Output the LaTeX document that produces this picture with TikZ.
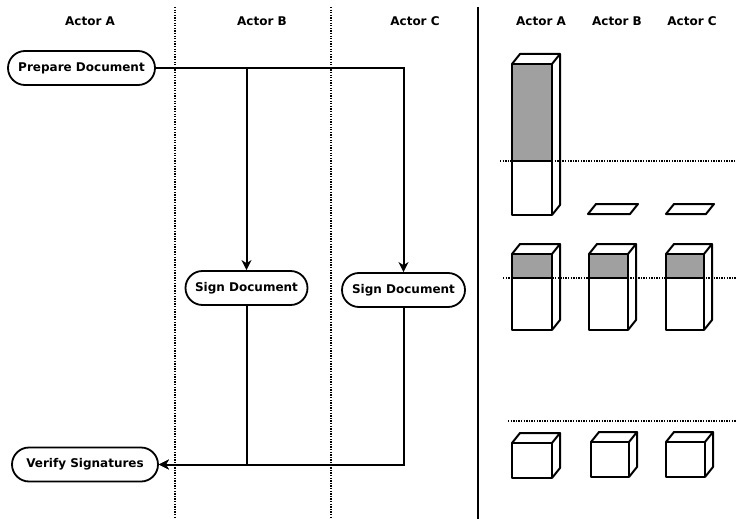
\documentclass[tikz,border=0pt]{standalone}
\usepackage{fontspec}
\setmainfont{DejaVu Sans}
\usetikzlibrary{arrows.meta}
\definecolor{boxgray}{HTML}{A0A0A0}
\newcommand{\colblock}[5]{%
  % #1 x-left, #2 y-top, #3 width, #4 y-bottom, #5 y of gray end (or same as #2)
  \fill[boxgray] (#1,#2) rectangle (#1+#3,#5);
  \draw[shape line] (#1,#2) rectangle (#1+#3,#4);
  \draw[shape line] (#1,#2) -- (#1+8,#2-10) -- (#1+#3+8,#2-10) -- (#1+#3,#2);
  \draw[shape line] (#1+#3+8,#2-10) -- (#1+#3+8,#4-10) -- (#1+#3,#4);
  \draw[shape line] (#1,#5) -- (#1+#3,#5);
}
\tikzset{
  act/.style={draw, line width=1.8pt, rounded corners=17pt, minimum height=34pt,
    inner sep=0pt, font=\fontsize{12}{14}\selectfont\bfseries},
  hdr/.style={font=\fontsize{12}{14}\selectfont\bfseries},
  flow/.style={line width=2pt, -{Stealth[length=10pt,width=10pt,inset=3pt]}},
  lane/.style={line width=1.4pt, dash pattern=on 1.3pt off 1.3pt},
  shape line/.style={line width=2pt, line join=round},
}
\begin{document}
\begin{tikzpicture}[x=1pt,y=-1pt]
\useasboundingbox (0,0) rectangle (736,519);
% lanes
\draw[lane] (175,7) -- (175,519);
\draw[lane] (331,7) -- (331,519);
\draw[line width=2pt] (478,7) -- (478,519);
% headers
\node[hdr] (hA) at (90,21) {Actor A};
\node[hdr] (hB) at (262,21) {Actor B};
\node[hdr] (hC) at (415,21) {Actor C};
\node[hdr] (rA) at (541,21) {Actor A};
\node[hdr] (rB) at (617,21) {Actor B};
\node[hdr] (rC) at (692,21) {Actor C};
% activity nodes
\node[act, minimum width=147pt] (prep) at (81.5,68) {Prepare Document};
\node[act, minimum width=122pt] (signB) at (246.5,288) {Sign Document};
\node[act, minimum width=123pt] (signC) at (403.5,290) {Sign Document};
\node[act, minimum width=146pt] (verify) at (85,464.5) {Verify Signatures};
% connectors
\draw[flow] (prep.east) -| (signB.north);
\draw[flow] (prep.east) -| (signC.north);
\draw[flow] (signB.south) |- (verify.east);
\draw[flow] (signC.south) |- (verify.east);
% right side dotted lines
\draw[lane] (500,161) -- (736,161);
\draw[lane] (503,278) -- (736,278);
\draw[lane] (508,421) -- (736,421);
% Actor A tall column
\colblock{512}{64}{40}{215}{161}
% flat tops for B and C
\draw[shape line] (588,214) -- (630,214) -- (638,204) -- (596,204) -- cycle;
\draw[shape line] (666,214) -- (706,214) -- (714,204) -- (674,204) -- cycle;
% middle row
\colblock{512}{254}{40}{330}{278}
\colblock{589}{254}{39}{330}{278}
\colblock{666}{254}{38}{330}{278}
% bottom cubes
\colblock{512}{443}{40}{478}{443}
\colblock{591}{442}{38}{477}{442}
\colblock{666}{442}{39}{477}{442}
\end{tikzpicture}
\end{document}
